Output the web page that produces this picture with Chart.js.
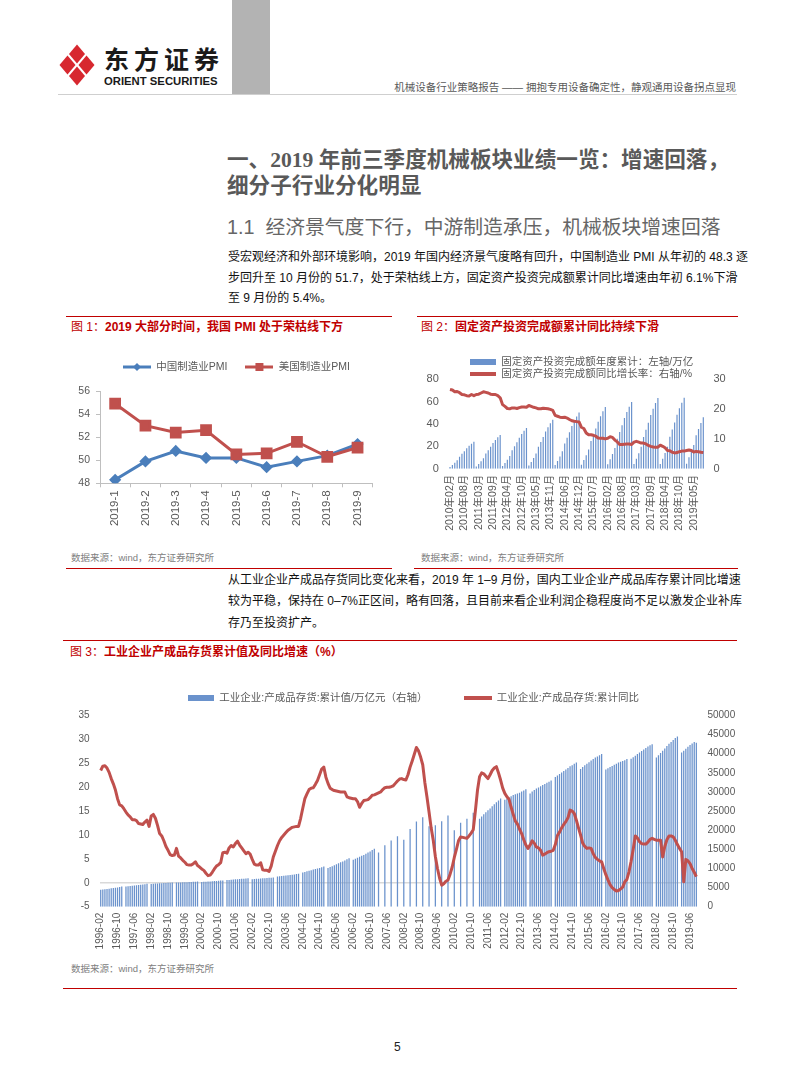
<!DOCTYPE html>
<html lang="zh-CN">
<head>
<meta charset="utf-8">
<title>机械设备行业策略报告 - 第5页</title>
<script src="https://cdn.jsdelivr.net/npm/chart.js"></script>
<style>
  html, body { margin: 0; padding: 0; background: #fff; }
  body {
    position: relative; width: 793px; height: 1077px; overflow: hidden;
    font-family: "Liberation Sans", "Noto Sans CJK SC", sans-serif; color: #111;
  }
  .t { position: absolute; white-space: nowrap; }
  .red-rule { position: absolute; height: 1.3px; background: #c00000; }
  .fig-title { position: absolute; white-space: nowrap; font-size: 12px; line-height: 14px; font-weight: bold; color: #c00000; }
  .fig-title span { font-weight: normal; }
  .source { position: absolute; white-space: nowrap; font-size: 9.5px; line-height: 12px; color: #808080; }
  .para { position: absolute; left: 228px; width: 509px; font-size: 12px; line-height: 16px; white-space: nowrap; text-align: justify; text-align-last: justify; }
  .para.end { text-align-last: left; }
  .chart-box { position: absolute; }
</style>
</head>
<body>

<!-- page header -->
<svg class="t" style="left:58px;top:43px" width="38" height="44" viewBox="0 0 38 44">
  <polygon points="19,1.5 27,11 19,20.5 11,11" fill="#d7282f"/>
  <polygon points="9.5,12.5 17.5,22 9.5,31.5 1.5,22" fill="#d7282f"/>
  <polygon points="28.5,12.5 36.5,22 28.5,31.5 20.5,22" fill="#d7282f"/>
  <polygon points="19,23.5 27,33 19,42.5 11,33" fill="#d7282f"/>
</svg>
<div class="t" style="left:104px;top:45px;font-size:25px;line-height:30px;font-weight:bold;letter-spacing:5px;color:#1a1a1a;">东方证券</div>
<div class="t" style="left:104px;top:75px;font-size:11.3px;line-height:12px;font-weight:bold;color:#1a1a1a;">ORIENT SECURITIES</div>
<div class="t" style="left:232px;top:0;width:38px;height:95px;background:#b3b3b3;"></div>
<div class="t" style="right:57px;top:80px;font-size:10.5px;line-height:14px;color:#595959;">机械设备行业策略报告 —— 拥抱专用设备确定性，静观通用设备拐点显现</div>
<div class="t" style="left:58px;top:94px;width:679px;height:1px;background:#cfcfcf;"></div>

<!-- headings and text -->
<div class="t" style="left:227px;top:148px;font-size:21.6px;line-height:24px;font-weight:bold;color:#595959;font-family:'Liberation Serif','Noto Sans CJK SC',serif;">一、2019 年前三季度机械板块业绩一览：增速回落，</div>
<div class="t" style="left:227px;top:174px;font-size:21.6px;line-height:24px;font-weight:bold;color:#595959;">细分子行业分化明显</div>
<div class="t" style="left:227px;top:216px;font-size:19.8px;line-height:22px;color:#666;">1.1&nbsp; 经济景气度下行，中游制造承压，机械板块增速回落</div>

<div class="para" style="top:249px;">受宏观经济和外部环境影响，2019 年国内经济景气度略有回升，中国制造业 PMI 从年初的 48.3 逐</div>
<div class="para" style="top:270px;">步回升至 10 月份的 51.7，处于荣枯线上方，固定资产投资完成额累计同比增速由年初 6.1%下滑</div>
<div class="para end" style="top:290px;">至 9 月份的 5.4%。</div>

<!-- figure 1 & 2 frames -->
<div class="red-rule" style="left:66px;top:315.5px;width:326px;"></div>
<div class="red-rule" style="left:417px;top:315.5px;width:321px;"></div>
<div class="fig-title" style="left:71px;top:320px;"><span>图 1：</span>2019 大部分时间，我国 PMI 处于荣枯线下方</div>
<div class="fig-title" style="left:421px;top:320px;"><span>图 2：</span>固定资产投资完成额累计同比持续下滑</div>
<div class="chart-box" style="left:63px;top:335px;width:327px;height:215px;"><canvas id="pmiChart"></canvas></div>
<div class="chart-box" style="left:415px;top:335px;width:330px;height:205px;"><canvas id="faiChart"></canvas></div>
<div class="source" style="left:71px;top:552px;">数据来源：wind，东方证券研究所</div>
<div class="source" style="left:421px;top:552px;">数据来源：wind，东方证券研究所</div>
<div class="red-rule" style="left:66px;top:568px;width:326px;"></div>
<div class="red-rule" style="left:414px;top:568px;width:324px;"></div>

<div class="para" style="top:572px;">从工业企业产成品存货同比变化来看，2019 年 1–9 月份，国内工业企业产成品库存累计同比增速</div>
<div class="para" style="top:593px;">较为平稳，保持在 0–7%正区间，略有回落，且目前来看企业利润企稳程度尚不足以激发企业补库</div>
<div class="para end" style="top:615px;">存乃至投资扩产。</div>

<!-- figure 3 -->
<div class="red-rule" style="left:63px;top:640px;width:674px;"></div>
<div class="fig-title" style="left:70px;top:645px;"><span>图 3：</span>工业企业产成品存货累计值及同比增速（%）</div>
<div class="chart-box" style="left:63px;top:640px;width:677px;height:315px;"><canvas id="invChart"></canvas></div>
<div class="source" style="left:71px;top:963px;">数据来源：wind，东方证券研究所</div>
<div class="red-rule" style="left:63px;top:988px;width:674px;"></div>

<div class="t" style="left:394px;top:1039px;font-size:12px;line-height:16px;color:#222;">5</div>

<script>
// ---------- figure 1: PMI ----------
const pmiMonths = ['2019-1', '2019-2', '2019-3', '2019-4', '2019-5', '2019-6', '2019-7', '2019-8', '2019-9'];
const chinaPmi = [48.3, 49.9, 50.8, 50.2, 50.2, 49.4, 49.9, 50.4, 51.4];
const usPmi = [54.9, 53.0, 52.4, 52.6, 50.5, 50.6, 51.6, 50.3, 51.1];
const pmiAxis = [48, 56, 1];

// ---------- figure 2: fixed asset investment (Feb..Dec each year, 2019 to Sep) ----------
const faiCum = [
  1.6, 3.4, 5.3, 7.5, 10.8, 13.3, 15.7, 18.3, 20.5, 22.4, 24.1,      // 2010
  2.0, 4.2, 6.6, 9.4, 13.6, 16.6, 19.6, 23.0, 25.7, 28.1, 30.2,      // 2011
  2.4, 5.1, 8.0, 11.3, 16.4, 20.1, 23.7, 27.7, 31.0, 33.9, 36.5,     // 2012
  2.8, 6.1, 9.6, 13.5, 19.7, 24.0, 28.4, 33.2, 37.1, 40.6, 43.7,     // 2013
  3.3, 7.0, 11.0, 15.6, 22.6, 27.6, 32.6, 38.2, 42.7, 46.7, 50.2,    // 2014
  3.6, 7.7, 12.1, 17.1, 24.8, 30.4, 35.9, 42.0, 46.9, 51.3, 55.2,    // 2015
  3.9, 8.4, 13.1, 18.5, 26.9, 32.8, 38.8, 45.4, 50.7, 55.5, 59.7,    // 2016
  4.1, 8.8, 13.9, 19.6, 28.4, 34.8, 41.1, 48.0, 53.7, 58.8, 63.2,    // 2017
  4.1, 8.9, 14.0, 19.7, 28.6, 35.0, 41.3, 48.3, 54.1, 59.1, 63.6,    // 2018
  4.5, 10.2, 15.6, 21.3, 30.0, 35.5, 41.0, 46.1                      // 2019
];
const faiYoY = [
  26.6, 26.4, 25.8, 25.9, 25.5, 24.9, 24.8, 24.5, 24.4, 24.9, 24.5,  // 2010
  24.9, 25.0, 25.4, 25.8, 25.6, 25.4, 25.0, 24.9, 24.9, 24.5, 23.8,  // 2011
  21.5, 20.9, 20.2, 20.1, 20.4, 20.4, 20.2, 20.5, 20.7, 20.7, 20.6,  // 2012
  21.2, 20.9, 20.6, 20.4, 20.1, 20.1, 20.3, 20.2, 20.1, 19.9, 19.6,  // 2013
  17.9, 17.6, 17.3, 17.2, 17.3, 17.0, 16.5, 16.1, 15.9, 15.8, 15.7,  // 2014
  13.9, 13.5, 12.0, 11.4, 11.4, 11.2, 10.9, 10.3, 10.2, 10.2, 10.0,  // 2015
  10.2, 10.7, 10.5, 9.6, 9.0, 8.1, 8.1, 8.2, 8.3, 8.3, 8.1,          // 2016
  8.9, 9.2, 8.9, 8.6, 8.6, 8.3, 7.8, 7.5, 7.3, 7.2, 7.2,             // 2017
  7.9, 7.5, 7.0, 6.1, 6.0, 5.5, 5.3, 5.4, 5.7, 5.9, 5.9,             // 2018
  6.1, 6.3, 6.1, 5.6, 5.8, 5.7, 5.5, 5.4                             // 2019
];
const faiAxisLeft = [0, 80, 20];
const faiAxisRight = [0, 30, 5];

// ---------- figure 3: finished goods inventory (1996-02 .. 2019-09, monthly) ----------
const invValue = [
  4400, 4480, 4560, 4650, 4720, 4800, 4880, 4960, 5050, 5150, 5300,                 // 1996 (Feb-Dec)
  null, 5250, 5330, 5400, 5480, 5550, 5620, 5700, 5760, 5830, 5900, 5980,           // 1997
  null, 5950, 6000, 6050, 6080, 6120, 6150, 6180, 6210, 6240, 6280, 6320,           // 1998
  null, 6300, 6330, 6360, 6380, 6400, 6420, 6450, 6480, 6510, 6550, 6600,           // 1999
  null, 6450, 6500, 6540, 6580, 6620, 6660, 6700, 6740, 6780, 6820, 6860,           // 2000
  null, 6950, 7000, 7050, 7100, 7150, 7200, 7240, 7290, 7340, 7400, 7450,           // 2001
  null, 7200, 7250, 7290, 7330, 7370, 7410, 7450, 7500, 7550, 7600, 7650,           // 2002
  null, 7900, 7960, 8020, 8080, 8150, 8220, 8290, 8360, 8440, 8520, 8600,           // 2003
  null, 8950, 9100, 9250, 9400, 9550, 9700, 9850, 10000, 10150, 10330, 10520,       // 2004
  null, 10100, 10350, 10600, 10850, 11100, 11350, 11600, 11850, 12100, 12400, 12700, // 2005
  null, 12300, 12550, 12800, 13050, 13300, 13550, 13850, 14150, 14450, 14800, 15150, // 2006
  null, 14200, null, null, 16050, null, null, 17280, null, null, 18420, null,       // 2007
  null, 17540, null, null, 20350, null, null, 22280, null, null, 23420, null,       // 2008
  null, 21050, null, null, 21310, null, null, 22360, null, null, 23850, null,       // 2009
  null, 20000, null, null, 21930, null, null, 22980, null, null, 24560, null,       // 2010
  null, 23000, 23600, 24200, 24700, 25200, 25700, 26300, 26800, 27300, 27800, 28300, // 2011
  null, 28000, 28300, 28600, 28900, 29200, 29400, 29600, 29800, 30100, 30400, 30700, // 2012
  null, 29600, 30100, 30500, 30900, 31200, 31500, 31800, 32100, 32400, 32700, 33000, // 2013
  null, 33900, 34300, 34700, 35100, 35500, 35900, 36300, 36700, 37000, 37400, 37700, // 2014
  null, 36000, 36500, 37000, 37400, 37800, 38200, 38600, 39000, 39300, 39600, 39900, // 2015
  null, 35900, 36200, 36500, 36800, 37100, 37400, 37700, 37900, 38100, 38300, 38600, // 2016
  null, 38700, 39100, 39500, 39900, 40300, 40700, 41100, 41500, 41900, 42200, 42500, // 2017
  null, 39000, 39600, 40200, 40800, 41400, 42000, 42600, 43100, 43600, 44100, 44500, // 2018
  null, 40300, 40800, 41300, 41800, 42300, 42700, 43100, 42900                      // 2019 (Jan-Sep)
];
const invYoY = [
  23.5, 24.4, 24.5, 24.0, 23.1, 21.8, 20.7, 19.4, 17.6, 16.3, 16.1,        // 1996 (Feb-Dec)
  15.5, 14.8, 14.2, 13.8, 13.2, 13.2, 13.0, 12.4, 12.3, 12.2, 12.7, 13.1,  // 1997
  11.8, 14.0, 14.3, 13.5, 12.0, 10.3, 9.8, 8.8, 7.6, 6.8, 5.9, 5.7,        // 1998
  5.8, 7.2, 5.6, 5.2, 4.7, 4.3, 3.8, 3.7, 3.7, 4.0, 4.4, 3.6,              // 1999
  3.3, 2.9, 2.6, 2.0, 1.5, 1.6, 2.2, 2.9, 3.5, 3.8, 4.2, 6.3,              // 2000
  6.4, 6.2, 7.3, 7.8, 7.5, 8.2, 8.7, 7.9, 7.3, 6.7, 6.1, 6.4,              // 2001
  6.0, 4.9, 3.9, 3.7, 3.7, 4.2, 2.7, 2.6, 2.6, 2.4, 3.5, 5.4,              // 2002
  6.6, 7.8, 8.8, 9.5, 10.0, 10.5, 11.0, 11.3, 11.6, 11.7, 11.8, 11.8,      // 2003
  13.5, 15.6, 17.6, 18.6, 19.5, 19.8, 19.9, 20.6, 21.4, 22.6, 23.8, 24.2,  // 2004
  22.1, 20.8, 19.8, 19.5, 19.3, 19.2, 19.1, 19.0, 19.0, 19.0, 18.0, 17.8,  // 2005
  17.7, 17.6, 17.6, 17.0, 15.8, 16.6, 17.2, 17.3, 17.4, 17.8, 18.3, 18.4,  // 2006
  18.6, 18.8, 19.0, 19.5, 19.9, 20.0, 20.0, 20.1, 20.3, 20.8, 21.3, 21.7,  // 2007
  21.8, 21.6, 21.5, 22.6, 24.2, 25.5, 26.9, 28.3, 27.6, 26.3, 24.7, 21.0,  // 2008
  18.0, 14.8, 11.5, 8.9, 5.5, 3.0, 1.0, -0.5, -0.2, 0.3, 0.6, 1.8,         // 2009
  3.3, 5.3, 7.0, 8.8, 9.6, 9.5, 9.4, 9.3, 9.8, 10.4, 11.1, 15.0,           // 2010
  19.3, 22.2, 23.0, 22.8, 22.3, 21.8, 22.6, 23.5, 24.0, 24.3, 23.0, 21.5,  // 2011
  19.8, 18.7, 18.0, 17.5, 15.8, 14.3, 12.9, 12.3, 11.2, 10.3, 9.0, 7.9,    // 2012
  7.2, 7.9, 8.8, 8.3, 7.5, 7.3, 6.8, 5.8, 6.0, 6.3, 6.5, 6.6,              // 2013
  6.8, 8.0, 9.9, 10.6, 11.5, 12.2, 12.8, 13.6, 15.2, 15.0, 14.5, 13.1,     // 2014
  11.5, 10.0, 8.3, 7.6, 7.2, 7.3, 7.2, 6.1, 5.3, 4.9, 4.6, 4.4,            // 2015
  3.0, 1.7, 0.6, -0.4, -1.0, -1.4, -1.7, -1.6, -1.3, -0.9, 0.2, 0.7,       // 2016
  2.3, 4.5, 7.0, 9.8, 9.4, 8.6, 8.2, 8.1, 8.1, 8.5, 9.1, 9.3,              // 2017
  9.1, 8.9, 8.9, 8.9, 5.4, 7.6, 9.0, 9.8, 9.8, 9.6, 8.9, 8.0,              // 2018
  7.2, 6.5, 0.2, 4.9, 4.6, 4.0, 3.0, 2.2, 1.3                              // 2019 (Jan-Sep)
];
const invAxisLeft = [-5, 35, 5];
const invAxisRight = [0, 50000, 5000];

// ---------- helpers ----------
function monthLabels(y0, m0, y1, m1, skipJan, fmt) {
  const out = [];
  for (let y = y0; y <= y1; y++) {
    const first = y === y0 ? m0 : 1;
    const last = y === y1 ? m1 : 12;
    for (let m = first; m <= last; m++) {
      if (skipJan && m === 1) continue;
      out.push(fmt(y, String(m).padStart(2, '0')));
    }
  }
  return out;
}
const faiLabels = monthLabels(2010, 2, 2019, 9, true, (y, m) => y + '年' + m + '月');
const invLabels = monthLabels(1996, 2, 2019, 9, false, (y, m) => y + '-' + m);

const BLUE = '#4a7ebb';
const RED = '#c0504d';
const BAR_BLUE = '#6a92cc';
const TEXT = '#595959';
const AXIS = '#bfbfbf';

Chart.defaults.font.family = '"Liberation Sans", "Noto Sans CJK SC", sans-serif';
Chart.defaults.color = TEXT;

// legend icon: line with marker in the middle
function lineIcon(color, shape) {
  const c = document.createElement('canvas');
  c.width = 28; c.height = 12;
  const g = c.getContext('2d');
  g.strokeStyle = color; g.lineWidth = 3;
  g.beginPath(); g.moveTo(0, 6); g.lineTo(28, 6); g.stroke();
  g.fillStyle = color;
  if (shape === 'diamond') {
    g.beginPath(); g.moveTo(14, 2); g.lineTo(18, 6); g.lineTo(14, 10); g.lineTo(10, 6); g.closePath(); g.fill();
  } else {
    g.fillRect(10, 2, 8, 8);
  }
  return c;
}

// legend icon: plain swatch
function swatch(color, w, h) {
  const c = document.createElement('canvas');
  c.width = w; c.height = h;
  const g = c.getContext('2d');
  g.fillStyle = color;
  g.fillRect(0, 0, w, h);
  return c;
}

function legendItems(icons) {
  return chart => Chart.defaults.plugins.legend.labels.generateLabels(chart)
    .sort((a, b) => a.datasetIndex - b.datasetIndex)
    .map(item => Object.assign(item, { pointStyle: icons[item.datasetIndex], lineWidth: 0 }));
}

// adjust legend box height and horizontal start
function legendTweak(dy, dx) {
  return {
    id: 'legendTweak',
    beforeInit(chart) {
      const legend = chart.legend;
      const fit = legend.fit;
      legend.fit = function () { fit.call(this); this.height += dy; };
    },
    afterLayout(chart) {
      chart.legend.left += dx;
      chart.legend.right += dx;
    }
  };
}

const plainNumber = v => String(v);

// ---------- figure 1 ----------
new Chart(document.getElementById('pmiChart'), {
  type: 'line',
  data: {
    labels: pmiMonths,
    datasets: [
      {
        label: '中国制造业PMI', data: chinaPmi,
        borderColor: BLUE, backgroundColor: BLUE, borderWidth: 3,
        pointStyle: 'rectRot', pointRadius: 4, pointBackgroundColor: BLUE, pointBorderColor: BLUE,
        tension: 0, order: 2
      },
      {
        label: '美国制造业PMI', data: usPmi,
        borderColor: RED, backgroundColor: RED, borderWidth: 3,
        pointStyle: 'rect', pointRadius: 6.2, pointBackgroundColor: RED, pointBorderColor: RED,
        tension: 0, order: 1
      }
    ]
  },
  options: {
    responsive: true, maintainAspectRatio: false, animation: false, events: [],
    layout: { padding: { top: 8.75, right: 17.3, left: 0, bottom: 0 } },
    plugins: {
      legend: {
        align: 'start',
        labels: {
          usePointStyle: true, pointStyleWidth: 28, padding: 18,
          font: { size: 10.5 }, color: TEXT,
          generateLabels: legendItems([lineIcon(BLUE, 'diamond'), lineIcon(RED, 'square')])
        }
      },
      tooltip: { enabled: false }
    },
    scales: {
      x: {
        offset: true,
        grid: { offset: true, drawOnChartArea: false, tickLength: 4, color: AXIS },
        border: { color: AXIS },
        ticks: { autoSkip: false, minRotation: 90, maxRotation: 90, padding: 3, font: { size: 11.5 } },
        afterFit: s => { s.height = 66.7; }
      },
      y: {
        min: pmiAxis[0], max: pmiAxis[1],
        ticks: { stepSize: pmiAxis[2], padding: 6, font: { size: 10.5 } },
        grid: { drawOnChartArea: false, tickLength: 4, color: AXIS },
        border: { color: AXIS },
        afterFit: s => { s.width = 37; }
      }
    }
  },
  plugins: [legendTweak(8.75, 42)]
});

// ---------- figure 2 ----------
new Chart(document.getElementById('faiChart'), {
  type: 'bar',
  data: {
    labels: faiLabels,
    datasets: [
      {
        type: 'bar', label: '固定资产投资完成额年度累计：左轴/万亿', data: faiCum, yAxisID: 'yL',
        backgroundColor: BAR_BLUE, barPercentage: 0.5, categoryPercentage: 1, order: 2
      },
      {
        type: 'line', label: '固定资产投资完成额同比增长率：右轴/%', data: faiYoY, yAxisID: 'yR',
        borderColor: RED, backgroundColor: RED, borderWidth: 3, pointRadius: 0, tension: 0,
        borderJoinStyle: 'round', order: 1
      }
    ]
  },
  options: {
    responsive: true, maintainAspectRatio: false, animation: false, events: [],
    layout: { padding: { top: 19.35, right: 0, left: 0, bottom: 0 } },
    plugins: {
      legend: {
        align: 'start',
        labels: {
          usePointStyle: true, pointStyleWidth: 26, padding: 2.1,
          font: { size: 10.5 }, color: TEXT,
          generateLabels: legendItems([swatch(BAR_BLUE, 26, 6), swatch(RED, 26, 4)])
        }
      },
      tooltip: { enabled: false }
    },
    scales: {
      x: {
        grid: { display: false, drawTicks: false }, border: { display: false },
        ticks: {
          autoSkip: false, minRotation: 90, maxRotation: 90, padding: 6, font: { size: 10.5 },
          callback: (v, i) => (i % 6 === 0 ? faiLabels[i] : null)
        },
        afterFit: s => { s.height = 71.3; }
      },
      yL: {
        position: 'left', min: faiAxisLeft[0], max: faiAxisLeft[1],
        ticks: { stepSize: faiAxisLeft[2], padding: 10, font: { size: 11 } },
        grid: { display: false, drawTicks: false }, border: { display: false },
        afterFit: s => { s.width = 33.8; }
      },
      yR: {
        position: 'right', min: faiAxisRight[0], max: faiAxisRight[1],
        ticks: { stepSize: faiAxisRight[2], padding: 9, font: { size: 11 } },
        grid: { display: false, drawTicks: false }, border: { display: false },
        afterFit: s => { s.width = 40.5; }
      }
    }
  },
  plugins: [legendTweak(-10.25, 52.9)]
});

// ---------- figure 3 ----------
new Chart(document.getElementById('invChart'), {
  type: 'bar',
  data: {
    labels: invLabels,
    datasets: [
      {
        type: 'bar', label: '工业企业:产成品存货:累计值/万亿元（右轴）', data: invValue, yAxisID: 'yR',
        backgroundColor: BAR_BLUE, barPercentage: 0.6, categoryPercentage: 1, order: 2
      },
      {
        type: 'line', label: '工业企业:产成品存货:累计同比', data: invYoY, yAxisID: 'yL',
        borderColor: RED, backgroundColor: RED, borderWidth: 3, pointRadius: 0, tension: 0,
        borderJoinStyle: 'round', order: 1
      }
    ]
  },
  options: {
    responsive: true, maintainAspectRatio: false, animation: false, events: [],
    layout: { padding: { top: 15.75, right: 0, left: 0, bottom: 0 } },
    plugins: {
      legend: {
        align: 'start',
        labels: {
          usePointStyle: true, pointStyleWidth: 27, padding: 37,
          font: { size: 10.5 }, color: TEXT,
          generateLabels: legendItems([swatch(BAR_BLUE, 26, 6), swatch(RED, 28, 4)])
        }
      },
      tooltip: { enabled: false }
    },
    scales: {
      x: {
        grid: { display: false, drawTicks: false }, border: { display: false },
        ticks: {
          autoSkip: false, minRotation: 90, maxRotation: 90, padding: 6, font: { size: 10 },
          callback: (v, i) => (i % 8 === 0 ? invLabels[i] : null)
        },
        afterFit: s => { s.height = 48.3; }
      },
      yL: {
        position: 'left', min: invAxisLeft[0], max: invAxisLeft[1],
        ticks: { stepSize: invAxisLeft[2], padding: 10, font: { size: 10 } },
        grid: {
          drawTicks: false, lineWidth: 1.5,
          color: c => (c.tick && c.tick.value === 0 ? '#d9d9d9' : 'rgba(0,0,0,0)')
        },
        border: { display: false },
        afterFit: s => { s.width = 36.65; }
      },
      yR: {
        position: 'right', min: invAxisRight[0], max: invAxisRight[1],
        ticks: { stepSize: invAxisRight[2], padding: 10, font: { size: 10 }, callback: plainNumber },
        grid: { display: false, drawTicks: false }, border: { display: false },
        afterFit: s => { s.width = 42.6; }
      }
    }
  },
  plugins: [legendTweak(2.25, 87)]
});
</script>
</body>
</html>
